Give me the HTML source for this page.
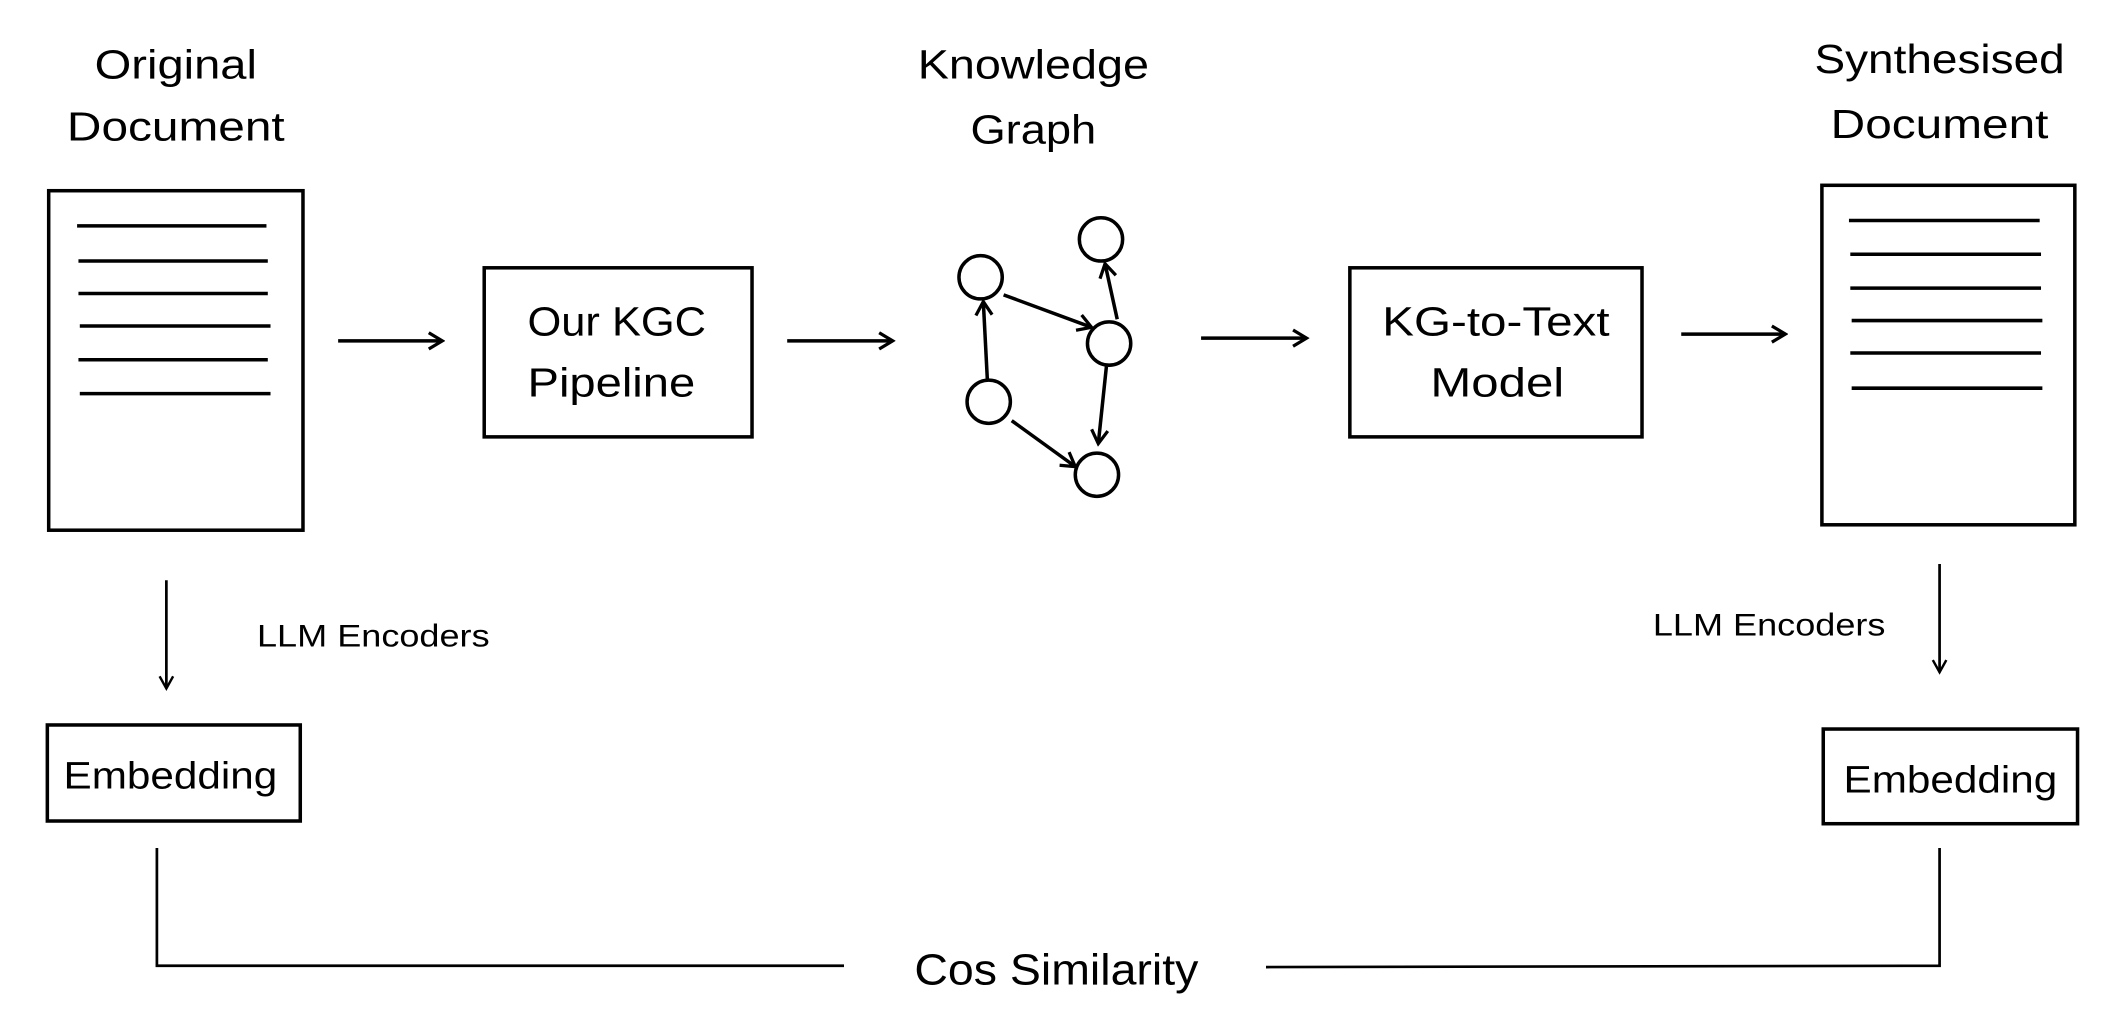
<!DOCTYPE html>
<html><head><meta charset="utf-8"><style>html,body{margin:0;padding:0;background:#fff;width:2110px;height:1022px;overflow:hidden}</style></head>
<body>
<svg width="2110" height="1022" viewBox="0 0 1560 755.6" preserveAspectRatio="none" xmlns="http://www.w3.org/2000/svg" font-family="Liberation Sans, sans-serif" fill="none" stroke="#000">
<defs>
<marker id="a" markerWidth="14" markerHeight="14" refX="12" refY="7" orient="auto" markerUnits="userSpaceOnUse"><path d="M2,1 L12,7 L2,13" stroke="#000" stroke-width="2.4" fill="none"/></marker>
<marker id="s" markerWidth="12" markerHeight="12" refX="10" refY="6" orient="auto" markerUnits="userSpaceOnUse"><path d="M1,1 L10,6 L1,11" stroke="#000" stroke-width="1.8" fill="none"/></marker>
</defs>
<g stroke-width="2.6">
<rect x="36" y="141" width="188" height="251"/>
<line x1="57" y1="167" x2="197" y2="167"/><line x1="58" y1="193" x2="198" y2="193"/><line x1="58" y1="217" x2="198" y2="217"/><line x1="59" y1="241" x2="200" y2="241"/><line x1="58" y1="266" x2="198" y2="266"/><line x1="59" y1="291" x2="200" y2="291"/>
<rect x="1347" y="137" width="187" height="251"/>
<line x1="1367" y1="163" x2="1508" y2="163"/><line x1="1368" y1="188" x2="1509" y2="188"/><line x1="1368" y1="213" x2="1509" y2="213"/><line x1="1369" y1="237" x2="1510" y2="237"/><line x1="1368" y1="261" x2="1509" y2="261"/><line x1="1369" y1="287" x2="1510" y2="287"/>
<rect x="358" y="198" width="198" height="125"/>
<rect x="998" y="198" width="216" height="125"/>
<rect x="35" y="536" width="187" height="71"/>
<rect x="1348" y="539" width="188" height="70"/>
<line x1="250" y1="252" x2="327" y2="252" marker-end="url(#a)"/>
<line x1="582" y1="252" x2="660" y2="252" marker-end="url(#a)"/>
<line x1="888" y1="250" x2="966" y2="250" marker-end="url(#a)"/>
<line x1="1243" y1="247" x2="1320" y2="247" marker-end="url(#a)"/>
<ellipse cx="725" cy="205" rx="16" ry="16"/>
<ellipse cx="814" cy="177" rx="16" ry="16"/>
<ellipse cx="820" cy="254" rx="16" ry="16"/>
<ellipse cx="731" cy="297" rx="16" ry="16"/>
<ellipse cx="811" cy="351" rx="16" ry="16"/>
<line x1="742" y1="218" x2="807" y2="242" marker-end="url(#a)"/>
<line x1="826" y1="236" x2="817" y2="195" marker-end="url(#a)"/>
<line x1="730" y1="281" x2="727" y2="223" marker-end="url(#a)"/>
<line x1="818" y1="271" x2="812" y2="328" marker-end="url(#a)"/>
<line x1="748" y1="311" x2="795" y2="345" marker-end="url(#a)"/>
</g>
<g stroke-width="2">
<line x1="123" y1="429" x2="123" y2="509" marker-end="url(#s)"/>
<line x1="1434" y1="417" x2="1434" y2="497" marker-end="url(#s)"/>
<polyline points="116,627 116,714 624,714"/>
<polyline points="1434,627 1434,714 936,715"/>
</g>
<g fill="#000" stroke="none" font-size="30" text-anchor="middle">
<text x="130" y="58" textLength="120" lengthAdjust="spacingAndGlyphs">Original</text>
<text x="130" y="104" textLength="161" lengthAdjust="spacingAndGlyphs">Document</text>
<text x="764" y="58" textLength="171" lengthAdjust="spacingAndGlyphs">Knowledge</text>
<text x="764" y="106" textLength="93" lengthAdjust="spacingAndGlyphs">Graph</text>
<text x="1434" y="54" textLength="185" lengthAdjust="spacingAndGlyphs">Synthesised</text>
<text x="1434" y="102" textLength="161" lengthAdjust="spacingAndGlyphs">Document</text>
<text x="456" y="248" textLength="132" lengthAdjust="spacingAndGlyphs">Our KGC</text>
<text x="452" y="293" textLength="124" lengthAdjust="spacingAndGlyphs">Pipeline</text>
<text x="1106" y="248" textLength="168" lengthAdjust="spacingAndGlyphs">KG-to-Text</text>
<text x="1107" y="293" textLength="99" lengthAdjust="spacingAndGlyphs">Model</text>
<text x="126" y="583" font-size="28" textLength="158" lengthAdjust="spacingAndGlyphs">Embedding</text>
<text x="1442" y="586" font-size="28" textLength="158" lengthAdjust="spacingAndGlyphs">Embedding</text>
<text x="781" y="728" font-size="32" textLength="210" lengthAdjust="spacingAndGlyphs">Cos Similarity</text>
<text x="276" y="478" font-size="23" textLength="172" lengthAdjust="spacingAndGlyphs">LLM Encoders</text>
<text x="1308" y="470" font-size="23" textLength="172" lengthAdjust="spacingAndGlyphs">LLM Encoders</text>
</g>
</svg>
</body></html>
